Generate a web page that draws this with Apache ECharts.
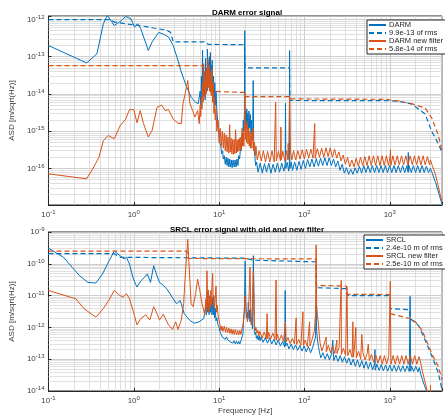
<!DOCTYPE html>
<html>
<head>
<meta charset="utf-8">
<script src="https://cdn.jsdelivr.net/npm/echarts@6/dist/echarts.min.js"></script>
<style>
  html, body { margin: 0; padding: 0; background: #fff; }
  #chart { width: 445px; height: 416px; }
</style>
</head>
<body>
<div id="chart"></div>
<script>
// [frequency Hz, ASD]
const darm = [
  [0.1,2.0e-13],[0.28,6.8e-14],[0.37,1.2e-13],[0.44,7.7e-13],[0.49,1.3e-12],[0.59,6.9e-13],[0.72,9.4e-13],[0.8,1.2e-12],
  [0.93,1.04e-12],[1.02,6.2e-13],[1.11,7.7e-13],[1.21,5.6e-13],[1.48,1.47e-13],[1.64,2.5e-13],[1.96,4.5e-13],[2.25,4.0e-13],
  [2.55,3.4e-13],[2.9,2.0e-13],[3.3,7.9e-14],[3.6,3.9e-14],[4.1,1.7e-14],[4.7,8.2e-15],[5.3,6.0e-15],[5.7,5.5e-15],
  [5.9,6e-15],[6.0,1.2e-14],[6.1,5e-15],[6.2,3e-14],[6.3,8e-15],[6.4,1.5e-13],[6.45,1.2e-14],[6.55,6e-14],[6.65,9e-15],
  [6.75,4e-14],[6.85,7e-15],[6.95,9e-14],[7.05,1e-14],[7.15,5e-14],[7.25,1.2e-14],[7.3,1.6e-13],[7.4,2e-14],[7.5,7e-14],
  [7.6,1.5e-14],[7.7,1e-13],[7.8,2e-14],[7.9,1.3e-13],[8.0,1.8e-14],[8.1,6e-14],[8.2,1.2e-14],[8.3,8e-14],[8.45,1e-14],
  [8.6,3e-14],[8.75,6e-15],[8.9,2e-14],[9.05,5e-15],[9.2,1.2e-14],[9.4,3.6e-15],[9.6,2e-15],[9.8,1.2e-15],[10.0,9e-16],
  [10.2,5e-16],[10.5,4e-16],[10.7,2.5e-16],[11.0,3e-16],[11.2,1.8e-16],[11.5,2.2e-16],[11.8,1.3e-16],[12.1,2e-16],
  [12.4,1.2e-16],[12.7,1.9e-16],[13.0,1.1e-16],[13.3,1.8e-16],[13.6,1.1e-16],[13.9,1.7e-16],[14.2,1.05e-16],[14.6,1.7e-16],
  [15.0,1.1e-16],[15.4,1.7e-16],[15.8,1.1e-16],[16.2,1.8e-16],[16.6,1.2e-16],[17.0,2.2e-16],[17.4,1.8e-16],[17.8,3.5e-16],
  [18.2,3e-16],[18.6,9e-16],[18.9,6e-16],[19.2,2e-15],[19.5,1e-15],[19.8,3e-15],[20.0,5e-13],[20.2,1.5e-15],[20.5,3.5e-15],
  [20.8,1.2e-15],[21.1,4e-15],[21.4,1.5e-15],[21.7,3e-15],[22.0,1e-15],[22.4,3.5e-15],[22.8,1.2e-15],[23.2,2.8e-15],
  [23.6,9e-16],[24.0,2e-15],[24.4,6e-16],[24.8,1.5e-15],[25.1,2.3e-14],[25.4,5e-16],[25.8,3e-16],[26.3,2e-16],[26.8,1.2e-16],
  [27.5,1.5e-16],[28.6,8e-17],[30.3,1.4e-16],[32.1,7.5e-17],[34,1.35e-16],[36,8e-17],[38.2,1.4e-16],[40.5,7.5e-17],
  [42.9,1.3e-16],[45.5,8e-17],[48.2,1.4e-16],[51.1,8e-17],[54.2,1.4e-16],[57.4,8.5e-17],[59.5,1.3e-16],[60,5.6e-15],
  [60.5,1e-16],[63,1.45e-16],[65.5,8.5e-17],[66.5,1.2e-16],[67,1.47e-13],[67.5,1e-16],[70,1.5e-16],[72.5,9e-17],
  [76.8,1.5e-16],[81.4,9e-17],[86.3,1.55e-16],[91.5,9.5e-17],[97,1.65e-16],[102.8,1e-16],[109,1.75e-16],[115.5,1.1e-16],
  [122.4,1.8e-16],[129.8,1.1e-16],[137.6,1.85e-16],[145.8,1.15e-16],[154.6,1.9e-16],[163.9,1.2e-16],[173.7,1.95e-16],
  [184.1,1.2e-16],[195.2,1.95e-16],[206.9,1.2e-16],[219.3,1.8e-16],[232.4,1.1e-16],[246.4,1.6e-16],[261.2,9e-17],
  [276.8,1.3e-16],[293.4,7.5e-17],[311,1.05e-16],[329.7,7e-17],[349.5,9.5e-17],[370.5,7e-17],[392.7,1.05e-16],
  [416.3,7.5e-17],[441.2,1.15e-16],[467.7,7.5e-17],[495.8,1.2e-16],[525.5,7.8e-17],[557,1.2e-16],[590.5,7.8e-17],
  [625.9,1.2e-16],[663.4,7.8e-17],[703.2,1.2e-16],[745.4,7.8e-17],[790.2,1.2e-16],[837.6,7.8e-17],[887.8,1.2e-16],
  [941.1,7.8e-17],[997.6,1.2e-16],[1057,7.8e-17],[1121,1.2e-16],[1188,7.8e-17],[1259,1.2e-16],[1335,7.8e-17],
  [1415,1.2e-16],[1500,7.8e-17],[1590,1.2e-16],[1640,8e-17],[1650,2.7e-16],[1660,8e-17],[1685,1.2e-16],[1786,7.8e-17],
  [1893,1.2e-16],[2007,7.8e-17],[2127,1.2e-16],[2255,7.8e-17],[2390,1.2e-16],[2534,7.8e-17],[2686,1.15e-16],
  [2847,7.8e-17],[3000,1e-16],[3150,7.5e-17],[3300,5.5e-17],[3450,4.2e-17],[3600,3e-17],[3750,2.2e-17],[3900,1.6e-17],
  [4096,1.1e-17]
];
const darmRms = [
  [0.1,9.9e-13],[0.52,9.9e-13],[0.6,8.5e-13],[0.85,7.5e-13],[1.2,6.8e-13],[1.7,5.9e-13],[2.4,5.2e-13],[2.7,4.5e-13],
  [2.9,2.5e-13],[6.9,2.5e-13],[7.4,2.15e-13],[19.8,2.1e-13],[20.2,5e-14],[67,5e-14],[67.5,6.7e-15],[1000,6.6e-15],
  [1300,6.3e-15],[1800,5.4e-15],[2600,2.9e-15],[3100,1e-15],[3700,4.7e-16],[4096,2.7e-16]
];
const darmNew = [
  [0.1,7.2e-17],[0.28,5.3e-17],[0.34,1.1e-16],[0.39,2.0e-16],[0.44,5.6e-16],[0.5,7.7e-16],[0.59,6.3e-16],[0.69,1.4e-15],
  [0.8,2.1e-15],[0.89,3.8e-15],[1.0,3.8e-15],[1.09,1.7e-15],[1.19,3.6e-15],[1.3,1.6e-15],[1.48,7e-16],[1.64,1.05e-15],
  [1.87,4.4e-15],[2.13,5e-15],[2.33,3.6e-15],[2.55,3.8e-15],[2.9,2.1e-15],[3.3,1.65e-15],[3.6,1.6e-15],[3.77,5.5e-15],
  [4.0,1e-14],[4.29,2.3e-14],[4.55,5.5e-15],[4.9,3.6e-15],[5.2,2.4e-15],[5.6,3.6e-15],[5.85,1.6e-15],[6.0,5e-15],
  [6.1,2.5e-15],[6.2,8.2e-15],[6.3,4e-15],[6.4,2e-14],[6.5,6e-15],[6.6,6.5e-14],[6.7,1e-14],[6.8,4e-14],[6.9,8e-15],
  [7.0,3e-14],[7.1,1e-14],[7.2,5e-14],[7.3,1.5e-14],[7.4,8.8e-14],[7.5,1.5e-14],[7.6,6e-14],[7.7,1.2e-14],[7.8,4e-14],
  [7.9,1.1e-14],[8.0,3e-14],[8.1,9e-15],[8.25,4.8e-14],[8.4,6e-15],[8.55,2e-14],[8.7,3e-15],[8.85,8e-15],[9.0,2e-15],
  [9.2,4e-15],[9.4,1e-15],[9.7,2e-15],[10.0,5e-16],[10.3,1.2e-15],[10.6,4e-16],[10.9,1e-15],[11.2,3.5e-16],[11.5,9e-16],
  [11.8,3e-16],[12.1,8e-16],[12.4,2.8e-16],[12.7,7e-16],[13.0,2.6e-16],[13.3,1.5e-15],[13.5,2.8e-16],[13.8,6.5e-16],
  [14.1,2.5e-16],[14.4,6e-16],[14.7,2.4e-16],[15.0,6e-16],[15.3,2.5e-16],[15.6,1.1e-15],[15.9,2.6e-16],[16.2,6e-16],
  [16.5,2.8e-16],[16.8,6e-16],[17.1,3e-16],[17.4,6.5e-16],[17.7,3e-16],[18.0,7e-16],[18.3,3.2e-16],[18.6,1.2e-15],
  [18.9,4e-16],[19.2,9e-16],[19.5,4e-16],[19.8,1.5e-15],[20.0,1.1e-14],[20.3,6e-16],[20.6,1.5e-15],[21.0,5e-16],
  [21.4,1.8e-15],[21.8,4.5e-16],[22.2,1.2e-15],[22.6,4e-16],[23.0,1e-15],[23.4,3.5e-16],[23.8,9e-16],[24.2,3.5e-16],
  [24.6,8e-16],[25.1,1.2e-15],[25.5,3e-16],[26.0,5e-16],[26.5,2.2e-16],[27,4e-16],[28,1.7e-16],[29.5,3e-16],[31.2,1.6e-16],
  [33,3e-16],[35,1.5e-16],[37,2.9e-16],[39.3,1.5e-16],[41.7,3e-16],[44.2,1.5e-16],[46,6e-15],[46.8,1.6e-16],[49.6,2.9e-16],
  [52.5,1.6e-16],[53,1.3e-15],[53.6,1.7e-16],[55.8,2.9e-16],[59,1.6e-16],[62,3e-16],[64,1.7e-16],[64.5,4.7e-16],
  [65.5,1.8e-16],[67,9e-15],[68.5,3e-16],[71.2,1.7e-16],[74.6,3e-16],[79,1.7e-16],[83.8,3e-16],[88.8,1.8e-16],
  [94.2,3.2e-16],[99.8,1.8e-16],[105.8,3.3e-16],[112.2,1.9e-16],[118.9,3.3e-16],[126,1.9e-16],[132,1.6e-15],[133.6,1.9e-16],
  [141.6,3.4e-16],[150,2e-16],[159,3.5e-16],[168.6,2e-16],[178.7,3.6e-16],[189.4,2.1e-16],[200.8,3.6e-16],[212.8,2e-16],
  [225.6,3.3e-16],[239.1,1.9e-16],[253.5,2.8e-16],[268.7,1.6e-16],[284.8,2.3e-16],[301.9,1.3e-16],[320,2e-16],
  [339.2,1.1e-16],[359.5,1.7e-16],[381,1.1e-16],[404,1.9e-16],[428,1.15e-16],[454,2e-16],[481,1.2e-16],[510,2.1e-16],
  [541,1.2e-16],[573,2.2e-16],[607,1.2e-16],[644,2.2e-16],[682,1.2e-16],[723,2.2e-16],[767,1.2e-16],[813,2.2e-16],
  [861,1.2e-16],[913,2.2e-16],[968,1.2e-16],[1010,2.2e-16],[1020,3.2e-16],[1030,1.2e-16],[1087,2.2e-16],[1153,1.25e-16],
  [1222,2.2e-16],[1295,1.25e-16],[1373,2.2e-16],[1455,1.25e-16],[1542,2.2e-16],[1635,1.25e-16],[1733,2.2e-16],
  [1837,1.25e-16],[1947,2.2e-16],[2064,1.25e-16],[2188,2.2e-16],[2319,1.25e-16],[2458,2.2e-16],[2606,1.25e-16],
  [2762,2.1e-16],[2928,1.25e-16],[3000,1.7e-16],[3150,1.2e-16],[3300,9e-17],[3450,6.5e-17],[3600,4.5e-17],[3750,3e-17],
  [3900,2e-17],[4096,1.3e-17]
];
const darmNewRms = [
  [0.1,5.8e-14],[6.3,5.8e-14],[6.6,5.0e-14],[7.4,3.0e-14],[8.3,1.3e-14],[9.2,1.17e-14],[19.8,1.1e-14],[20.2,8.5e-15],
  [67,8.5e-15],[67.5,7.4e-15],[920,7.2e-15],[1300,6.4e-15],[1800,5.5e-15],[2600,4.2e-15],[3100,2.3e-15],[3700,8e-16],
  [4096,3e-16]
];

const srcl = [
  [0.1,3.1e-10],[0.15,1.6e-10],[0.19,7.7e-11],[0.23,4.3e-11],[0.29,2.6e-11],[0.36,2.5e-11],[0.43,4.8e-11],[0.51,1.2e-10],
  [0.59,2.5e-10],[0.69,1.8e-10],[0.77,1.43e-10],[0.82,1.6e-10],[0.89,9.8e-11],[0.99,3.3e-11],[1.09,1.86e-11],[1.21,2.9e-11],
  [1.34,3.8e-11],[1.44,4.8e-11],[1.57,2.6e-11],[1.71,8.7e-11],[1.84,4.8e-11],[2.0,2.6e-11],[2.22,2.1e-11],[2.43,1.63e-11],
  [2.66,1.14e-11],[2.9,7.9e-12],[3.16,5.6e-12],[3.5,7e-12],[3.9,2.7e-12],[4.5,1.7e-12],[5.1,1.35e-12],[5.8,1.5e-12],
  [6.6,1.9e-12],[6.8,3e-12],[7.0,5e-12],[7.1,2.5e-12],[7.2,1.4e-11],[7.35,3e-12],[7.5,6e-12],[7.65,2.5e-12],[7.8,1e-11],
  [7.95,3e-12],[8.1,6e-12],[8.25,2.5e-12],[8.4,9e-12],[8.55,2.5e-12],[8.7,5e-12],[8.85,2e-12],[9.0,4e-12],[9.2,1.6e-12],
  [9.4,2e-12],[9.7,1.2e-12],[10.0,1e-12],[10.3,7e-13],[10.7,6.6e-13],[11.0,4.8e-13],[11.4,5.5e-13],[11.8,4.2e-13],
  [12.2,5e-13],[12.7,4e-13],[13.1,4.6e-13],[13.5,3.5e-13],[14,4e-13],[14.5,3.2e-13],[15,3.8e-13],[15.5,3e-13],[16,3.7e-13],
  [16.5,3e-13],[17,3.6e-13],[17.5,3e-13],[18,3.8e-13],[18.5,3.5e-13],[19,6e-13],[19.3,1.5e-12],[19.6,2.5e-12],[19.8,4e-12],
  [20.2,1.24e-10],[20.6,5e-12],[20.9,2e-12],[21.3,3e-12],[21.7,1.8e-12],[22.0,6e-12],[22.4,2e-12],[22.7,3.5e-12],
  [23.0,1.5e-12],[23.4,4e-12],[23.8,1.2e-12],[24.2,2e-12],[24.6,9e-13],[25.2,1.8e-10],[25.8,1e-12],[26.3,6e-13],
  [26.8,7e-13],[27.4,4.5e-13],[28,5.5e-13],[28.7,4e-13],[29.5,5.5e-13],[30.2,3.8e-13],[31,5e-13],[32.8,3.4e-13],
  [34.8,4.8e-13],[36.9,3.2e-13],[39.1,4.6e-13],[41.4,3e-13],[43.9,4.3e-13],[46.6,2.8e-13],[49.3,4e-13],[52.3,2.6e-13],
  [55.4,3.6e-13],[58.8,2.4e-13],[59.5,1.45e-11],[60.3,2.6e-13],[62.3,3.2e-13],[66,2.1e-13],[70,3e-13],[74.2,2e-13],
  [78.6,2.8e-13],[83.3,1.9e-13],[88.3,2.7e-13],[93.6,1.8e-13],[99.2,2.6e-13],[105,1.7e-13],[111.5,2.5e-13],[118.2,1.6e-13],
  [125.3,2.4e-13],[131,2.2e-13],[135,5e-13],[137,5e-12],[139,8e-13],[142,4e-13],[146,2.5e-13],[150,1.7e-13],[155.5,1.1e-13],
  [164.8,1.6e-13],[174.7,1e-13],[185.2,1.5e-13],[196.3,9.5e-14],[208,1.45e-13],[215,4e-13],[220.5,9e-14],[233.8,1.35e-13],
  [247.8,8.5e-14],[262.7,1.3e-13],[278.4,8e-14],[295.1,1.2e-13],[312.8,7.5e-14],[331.6,1.1e-13],[351.5,6.5e-14],
  [372.6,1e-13],[395,6e-14],[418.7,9.5e-14],[443.8,5.6e-14],[470.5,9e-14],[498.7,5.2e-14],[528.6,8.5e-14],[560.3,5e-14],
  [594,8e-14],[629.6,4.6e-14],[667.4,7.5e-14],[670,2e-13],[675,4.5e-14],[707.4,7e-14],[749.9,4.4e-14],[794.9,6.8e-14],
  [842.6,4.3e-14],[893.1,6.6e-14],[946.7,4.2e-14],[1003,6.5e-14],[1064,4.2e-14],[1127,6.4e-14],[1195,4.1e-14],
  [1267,6.3e-14],[1343,4.1e-14],[1423,6.2e-14],[1509,4.1e-14],[1599,6.2e-14],[1695,4.1e-14],[1730,9.5e-12],[1760,4.2e-14],
  [1797,6.1e-14],[1905,4.1e-14],[2019,6e-14],[2140,4e-14],[2220,5.5e-14],[2320,3.2e-14],[2430,2.2e-14],[2550,1.5e-14],
  [2680,1.05e-14],[2800,7e-15]
];
const srclRms = [
  [0.1,2.1e-10],[0.58,2.1e-10],[0.7,1.6e-10],[20,1.5e-10],[20.4,1.3e-10],[25,1.3e-10],[25.4,1.15e-10],[137,1.15e-10],
  [138,1.77e-11],[310,1.65e-11],[320,1.0e-11],[1015,1.0e-11],[1020,3.9e-12],[1700,3.6e-12],[1740,1.9e-12],[2200,1.1e-12],
  [2600,4e-13],[3100,1.3e-13],[3700,3.8e-14],[4096,1.1e-14]
];
const srclNew = [
  [0.1,1.45e-11],[0.21,7.9e-12],[0.26,3.9e-12],[0.36,2.1e-12],[0.44,3.9e-12],[0.51,7.1e-12],[0.59,1.45e-11],[0.69,1e-11],
  [0.75,9e-12],[0.82,1.14e-11],[0.89,8e-12],[0.99,3.1e-12],[1.09,1.2e-12],[1.21,1.9e-12],[1.38,2.5e-12],[1.54,1.7e-12],
  [1.71,4.5e-12],[1.84,3e-12],[2.0,1.7e-12],[2.22,2.6e-12],[2.55,1.2e-12],[2.85,8.7e-13],[3.1,1.5e-12],[3.3,8.7e-13],
  [3.6,1.7e-12],[3.84,5.6e-12],[4.0,3.8e-11],[4.29,5.9e-10],[4.5,4.8e-11],[4.7,5.6e-12],[4.95,4.5e-12],[5.3,1.14e-11],
  [5.6,3.3e-11],[5.9,1.6e-11],[6.3,5.6e-12],[6.8,2.5e-12],[7.0,8e-12],[7.1,3e-12],[7.2,6e-11],[7.35,4e-12],[7.5,1.5e-11],
  [7.6,3e-12],[7.75,9e-12],[7.9,4e-12],[8.0,1.45e-11],[8.15,5e-12],[8.25,2e-11],[8.4,5e-11],[8.55,5e-12],[8.7,1e-11],
  [8.8,4e-12],[9.0,8e-12],[9.2,2e-11],[9.35,3e-12],[9.5,5e-12],[9.7,2.5e-12],[9.9,1.8e-12],[10.2,1.3e-12],[10.5,8e-13],
  [10.8,1.1e-12],[11.1,7.5e-13],[11.5,1.1e-12],[11.9,7e-13],[12.2,1e-12],[12.6,6.8e-13],[13,9.5e-13],[13.4,6.5e-13],
  [13.8,9e-13],[14.2,6.2e-13],[14.6,8.5e-13],[15,6e-13],[15.5,8.5e-13],[16,5.8e-13],[16.5,8e-13],[17,5.8e-13],[17.5,8e-13],
  [18,6e-13],[18.5,9e-13],[19,1.2e-12],[19.5,2e-12],[20.2,1e-11],[20.8,3e-12],[21.5,1.5e-12],[22.2,4e-12],[23,7.9e-11],
  [23.6,2e-12],[24.3,1.2e-12],[25.3,6e-11],[26,1.2e-12],[26.5,8e-13],[27,1e-12],[27.7,6.5e-13],[28.5,8e-13],[29.2,5.5e-13],
  [30,7.5e-13],[31.9,4.6e-13],[33.8,7.2e-13],[35.8,4.4e-13],[36.5,2.7e-12],[37.2,4.4e-13],[38,7e-13],[40.2,4.3e-13],
  [42.6,6.6e-13],[45.2,4.2e-13],[46.5,3.1e-11],[47.2,4e-13],[47.9,6.2e-13],[50.8,3.9e-13],[53.8,5.8e-13],[57,3.6e-13],
  [60,1.5e-12],[61,3.5e-13],[64.2,4.8e-13],[68,3.1e-13],[72.1,4.5e-13],[76.4,3e-13],[80,2e-12],[81,2.9e-13],[85.8,4.2e-13],
  [90.9,2.7e-13],[96,3.1e-12],[97.3,2.7e-13],[102,4e-13],[108.1,2.5e-13],[115,1.5e-12],[116,2.6e-13],[121.6,3.8e-13],
  [126,4e-13],[131,8e-13],[135,3e-12],[137,3.9e-10],[139,5e-12],[142,2.5e-12],[146,1.2e-12],[150,5e-13],[152.7,3.2e-13],
  [160,1.8e-13],[170,3e-13],[180,5e-13],[180.5,1.7e-13],[190.6,2.8e-13],[202,1.6e-13],[214.2,2.6e-13],[227,1.5e-13],
  [240,4e-13],[240.6,1.5e-13],[255,2.4e-13],[270,3e-11],[271,1.4e-13],[286.5,2.2e-13],[303.7,1.3e-13],[315,1.9e-11],
  [322,1.3e-13],[341.3,2e-13],[361.8,1.15e-13],[370,1.5e-12],[374,1.15e-13],[383.5,1.9e-13],[400,1e-12],[406.5,1.1e-13],
  [430.9,1.8e-13],[456.7,1e-13],[470,6e-13],[484.1,1.65e-13],[513.2,9.5e-14],[544,1.55e-13],[560,3e-13],[576.6,9e-14],
  [611.2,1.45e-13],[647.9,8e-14],[686.8,1.35e-13],[728,7.5e-14],[771.7,1.3e-13],[818,7e-14],[867.1,1.3e-13],[919.1,7e-14],
  [974.2,1.3e-13],[1015,2.8e-11],[1033,7e-14],[1095,1.3e-13],[1161,7e-14],[1230,1.3e-13],[1304,7e-14],[1382,1.3e-13],
  [1465,7e-14],[1553,1.3e-13],[1646,7e-14],[1745,1.3e-13],[1850,7e-14],[1961,1.3e-13],[2079,7e-14],[2200,1.2e-13],
  [2300,8e-14],[2400,4.5e-14],[2500,2.8e-14],[2620,1.7e-14],[2740,1.05e-14],[2870,7e-15],[2990,5e-15],[3000,1.5e-14],
  [3010,5e-15]
];
const srclNewRms = [
  [0.1,2.5e-10],[4.2,2.5e-10],[4.4,1.47e-10],[137,1.42e-10],[138,2.1e-11],[310,2e-11],[320,1.1e-11],[1015,1.08e-11],
  [1020,2.7e-12],[1700,1.9e-12],[2000,1.5e-12],[2400,8e-13],[2800,3e-13],[3100,1.5e-13],[3700,6e-14],[4096,2.3e-14]
];

const topNames = ['DARM', '9.9e-13 of rms', 'DARM new filter', '5.8e-14 of rms'];
const bottomNames = ['SRCL', '2.4e-10 m of rms', 'SRCL new filter', '2.5e-10 m of rms'];

const BLUE = '#0072BD';
const ORANGE = '#D95319';
const FONT = 'Liberation Sans';
const TXT = '#404040';

function decadeLabel(v) {
  const e = Math.log10(v);
  const r = Math.round(e);
  if (Math.abs(e - r) > 1e-6) return '';
  return '10{sup|' + r + '}';
}

// minor grid values 2..9 x 10^k inside (lo, hi)
function minorValues(lo, hi) {
  const out = [];
  for (let k = Math.floor(Math.log10(lo)); k <= Math.ceil(Math.log10(hi)); k++) {
    for (let m = 2; m <= 9; m++) {
      const v = m * Math.pow(10, k);
      if (v > lo && v < hi) out.push(v);
    }
  }
  return out;
}

const X_MIN = 0.1, X_MAX = 4096;
const Y1 = [1.05e-17, 1.24e-12];
const Y2 = [1e-14, 1e-9];

function axisCommon() {
  return {
    type: 'log', logBase: 10, nameLocation: 'middle',
    nameTextStyle: { fontFamily: FONT, fontSize: 8, color: TXT },
    axisLine: { show: true, lineStyle: { color: '#262626', width: 1 } },
    axisTick: { show: true, inside: true, length: 3, lineStyle: { color: '#262626' } },
    axisLabel: {
      formatter: decadeLabel, margin: 4, fontFamily: FONT, fontSize: 8, color: TXT,
      rich: { sup: { fontFamily: FONT, fontSize: 6, color: TXT, padding: [0, 0, 5, 0] } }
    },
    splitLine: { show: true, lineStyle: { color: '#c0c0c0', width: 0.8 } }
  };
}
function xAxis(idx, withName) {
  return Object.assign(axisCommon(), {
    gridIndex: idx, min: X_MIN, max: X_MAX,
    name: withName ? 'Frequency [Hz]' : '', nameGap: 16
  });
}
function yAxis(idx, ext) {
  return Object.assign(axisCommon(), {
    gridIndex: idx, min: ext[0], max: ext[1],
    name: 'ASD [m/sqrt(Hz)]', nameGap: 23, nameRotate: 90
  });
}

function curve(name, data, color, dashed, idx) {
  return {
    name: name, type: 'line', xAxisIndex: idx, yAxisIndex: idx, data: data,
    symbol: 'none', showSymbol: false, sampling: null, z: 3,
    lineStyle: { color: color, width: dashed ? 1.2 : 1, type: dashed ? [5, 3] : 'solid' },
    itemStyle: { color: color }
  };
}

// minor grid drawn as mark lines with both ends given on the axes
function minorGrid(idx, ext) {
  const lines = [];
  minorValues(X_MIN, X_MAX).forEach(function (v) {
    lines.push([{ coord: [v, ext[0]] }, { coord: [v, ext[1]] }]);
  });
  minorValues(ext[0], ext[1]).forEach(function (v) {
    lines.push([{ coord: [X_MIN, v] }, { coord: [X_MAX, v] }]);
  });
  return {
    type: 'line', xAxisIndex: idx, yAxisIndex: idx, data: [], silent: true, z: 1,
    markLine: {
      silent: true, symbol: ['none', 'none'], animation: false, z: 1,
      label: { show: false },
      lineStyle: { color: '#d2d2d2', width: 0.7, type: 'solid' },
      data: lines
    }
  };
}

function legend(names, left, top) {
  return {
    data: names, orient: 'vertical', left: left, top: top,
    itemWidth: 17, itemHeight: 8, itemGap: 0, padding: [1, 3, 1, 1],
    backgroundColor: '#fff', borderColor: '#262626', borderWidth: 1, borderRadius: 0,
    itemStyle: { opacity: 0 },
    textStyle: { fontFamily: FONT, fontSize: 7.5, color: '#262626', padding: [0, 0, 0, -2] },
    selectedMode: false
  };
}

const chart = echarts.init(document.getElementById('chart'));
chart.setOption({
  animation: false,
  backgroundColor: '#fff',
  title: [
    { text: 'DARM error signal', left: 242, top: 4, textAlign: 'center',
      textStyle: { fontFamily: FONT, fontSize: 8, fontWeight: 'bold', color: '#000' } },
    { text: 'SRCL error signal with old and new filter', left: 242, top: 221, textAlign: 'center',
      textStyle: { fontFamily: FONT, fontSize: 8, fontWeight: 'bold', color: '#000' } }
  ],
  legend: [legend(topNames, 367, 20), legend(bottomNames, 364, 235)],
  grid: [
    { left: 37, top: 16, width: 407, height: 189, show: true, borderColor: '#262626', borderWidth: 1, backgroundColor: '#fff' },
    { left: 37, top: 232, width: 407, height: 161, show: true, borderColor: '#262626', borderWidth: 1, backgroundColor: '#fff' }
  ],
  xAxis: [xAxis(0, false), xAxis(1, true)],
  yAxis: [yAxis(0, Y1), yAxis(1, Y2)],
  series: [
    minorGrid(0, Y1),
    minorGrid(1, Y2),
    curve(topNames[0], darm, BLUE, false, 0),
    curve(topNames[1], darmRms, BLUE, true, 0),
    curve(topNames[2], darmNew, ORANGE, false, 0),
    curve(topNames[3], darmNewRms, ORANGE, true, 0),
    curve(bottomNames[0], srcl, BLUE, false, 1),
    curve(bottomNames[1], srclRms, BLUE, true, 1),
    curve(bottomNames[2], srclNew, ORANGE, false, 1),
    curve(bottomNames[3], srclNewRms, ORANGE, true, 1)
  ]
});
</script>
</body>
</html>
